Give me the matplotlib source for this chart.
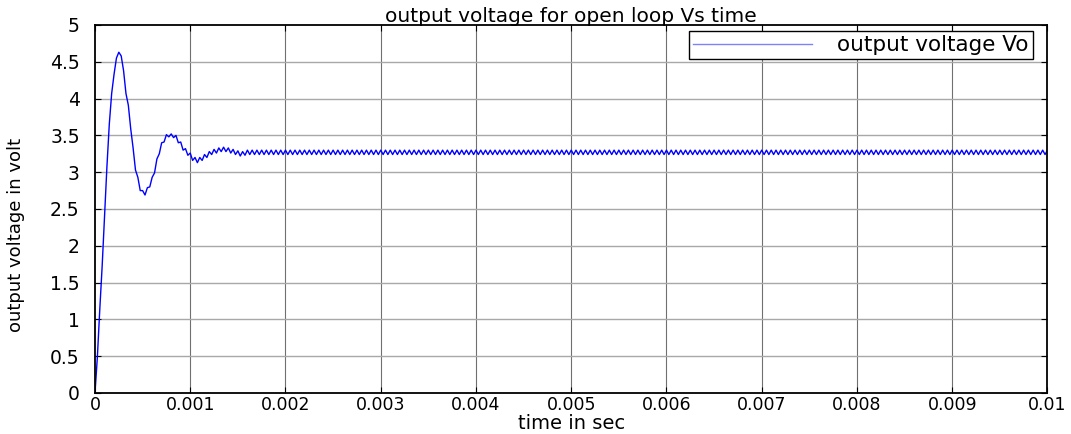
import numpy as np
import matplotlib
matplotlib.use("Agg")
import matplotlib.pyplot as plt

sample_step = 0.000025

vo_transient = [
    0.00, 0.49, 1.13, 1.72, 2.38, 3.07, 3.65, 4.07, 4.33, 4.55,
    4.63, 4.58, 4.38, 4.07, 3.91, 3.59, 3.33, 3.03, 2.93, 2.75,
    2.75, 2.69, 2.79, 2.80, 2.93, 2.99, 3.18, 3.25, 3.40, 3.41,
    3.51, 3.48, 3.52, 3.47, 3.50, 3.40, 3.41, 3.30, 3.32, 3.23,
    3.26, 3.16, 3.20, 3.13, 3.20, 3.16, 3.24, 3.20, 3.28, 3.24,
    3.31, 3.26, 3.33, 3.28, 3.34, 3.28, 3.33, 3.26, 3.31, 3.24,
    3.29, 3.22, 3.28, 3.23, 3.30,
]

vo_steady = [
    3.24, 3.30, 3.24, 3.30, 3.24, 3.30, 3.24, 3.30, 3.24, 3.30, 3.24, 3.30, 3.24, 3.30, 3.24, 3.30,
    3.24, 3.30, 3.24, 3.30, 3.24, 3.30, 3.24, 3.30, 3.24, 3.30, 3.24, 3.30, 3.24, 3.30, 3.24, 3.30,
    3.24, 3.30, 3.24, 3.30, 3.24, 3.30, 3.24, 3.30, 3.24, 3.30, 3.24, 3.30, 3.24, 3.30, 3.24, 3.30,
    3.24, 3.30, 3.24, 3.30, 3.24, 3.30, 3.24, 3.30, 3.24, 3.30, 3.24, 3.30, 3.24, 3.30, 3.24, 3.30,
    3.24, 3.30, 3.24, 3.30, 3.24, 3.30, 3.24, 3.30, 3.24, 3.30, 3.24, 3.30, 3.24, 3.30, 3.24, 3.30,
    3.24, 3.30, 3.24, 3.30, 3.24, 3.30, 3.24, 3.30, 3.24, 3.30, 3.24, 3.30, 3.24, 3.30, 3.24, 3.30,
    3.24, 3.30, 3.24, 3.30, 3.24, 3.30, 3.24, 3.30, 3.24, 3.30, 3.24, 3.30, 3.24, 3.30, 3.24, 3.30,
    3.24, 3.30, 3.24, 3.30, 3.24, 3.30, 3.24, 3.30, 3.24, 3.30, 3.24, 3.30, 3.24, 3.30, 3.24, 3.30,
    3.24, 3.30, 3.24, 3.30, 3.24, 3.30, 3.24, 3.30, 3.24, 3.30, 3.24, 3.30, 3.24, 3.30, 3.24, 3.30,
    3.24, 3.30, 3.24, 3.30, 3.24, 3.30, 3.24, 3.30, 3.24, 3.30, 3.24, 3.30, 3.24, 3.30, 3.24, 3.30,
    3.24, 3.30, 3.24, 3.30, 3.24, 3.30, 3.24, 3.30, 3.24, 3.30, 3.24, 3.30, 3.24, 3.30, 3.24, 3.30,
    3.24, 3.30, 3.24, 3.30, 3.24, 3.30, 3.24, 3.30, 3.24, 3.30, 3.24, 3.30, 3.24, 3.30, 3.24, 3.30,
    3.24, 3.30, 3.24, 3.30, 3.24, 3.30, 3.24, 3.30, 3.24, 3.30, 3.24, 3.30, 3.24, 3.30, 3.24, 3.30,
    3.24, 3.30, 3.24, 3.30, 3.24, 3.30, 3.24, 3.30, 3.24, 3.30, 3.24, 3.30, 3.24, 3.30, 3.24, 3.30,
    3.24, 3.30, 3.24, 3.30, 3.24, 3.30, 3.24, 3.30, 3.24, 3.30, 3.24, 3.30, 3.24, 3.30, 3.24, 3.30,
    3.24, 3.30, 3.24, 3.30, 3.24, 3.30, 3.24, 3.30, 3.24, 3.30, 3.24, 3.30, 3.24, 3.30, 3.24, 3.30,
    3.24, 3.30, 3.24, 3.30, 3.24, 3.30, 3.24, 3.30, 3.24, 3.30, 3.24, 3.30, 3.24, 3.30, 3.24, 3.30,
    3.24, 3.30, 3.24, 3.30, 3.24, 3.30, 3.24, 3.30, 3.24, 3.30, 3.24, 3.30, 3.24, 3.30, 3.24, 3.30,
    3.24, 3.30, 3.24, 3.30, 3.24, 3.30, 3.24, 3.30, 3.24, 3.30, 3.24, 3.30, 3.24, 3.30, 3.24, 3.30,
    3.24, 3.30, 3.24, 3.30, 3.24, 3.30, 3.24, 3.30, 3.24, 3.30, 3.24, 3.30, 3.24, 3.30, 3.24, 3.30,
    3.24, 3.30, 3.24, 3.30, 3.24, 3.30, 3.24, 3.30, 3.24, 3.30, 3.24, 3.30, 3.24, 3.30, 3.24, 3.30,
]

x_ticks = [0, 0.001, 0.002, 0.003, 0.004, 0.005, 0.006, 0.007, 0.008, 0.009, 0.01]
x_tick_labels = ["0", "0.001", "0.002", "0.003", "0.004", "0.005",
                 "0.006", "0.007", "0.008", "0.009", "0.01"]
y_ticks = [0, 0.5, 1, 1.5, 2, 2.5, 3, 3.5, 4, 4.5, 5]
y_tick_labels = ["0", "0.5", "1", "1.5", "2", "2.5", "3", "3.5", "4", "4.5", "5"]

vo = np.array(vo_transient + vo_steady)
time = np.arange(len(vo)) * sample_step

plt.rcParams['font.family'] = ['DejaVu Sans']

fig = plt.figure(figsize=(10.71, 4.34), dpi=100)
ax = fig.add_axes([0.0887, 0.0945, 0.8893, 0.8479])

ax.plot(time, vo, color="#0000ff", linewidth=1.0, label="output voltage Vo")

ax.set_xlim(0, 0.01)
ax.set_ylim(0, 5)
ax.set_xticks(x_ticks)
ax.set_xticklabels(x_tick_labels, fontsize=12.5)
ax.set_yticks(y_ticks)
ax.set_yticklabels(y_tick_labels, fontsize=13.5)

ax.tick_params(direction='in', length=4, width=0.8, top=True, right=True, color='black')
ax.tick_params(axis='x', pad=2)
ax.tick_params(axis='y', pad=11)

for v in x_ticks[1:-1]:
    ax.axvline(v, color="#707070", linewidth=0.8, zorder=0)
for v in y_ticks[1:-1]:
    ax.axhline(v, color="#a8a8a8", linewidth=1.0, zorder=0)

for spine in ax.spines.values():
    spine.set_linewidth(1.3)

ax.set_title("output voltage for open loop Vs time", fontsize=14.5, pad=2)
ax.set_xlabel("time in sec", fontsize=14, labelpad=0)
ax.set_ylabel("output voltage in volt", fontsize=13)
ax.yaxis.set_label_coords(-0.074, 0.43)

leg = ax.legend(loc='upper right', fontsize=15.5, fancybox=False, framealpha=1,
                edgecolor='black', borderpad=0.2, handlelength=5.5,
                handletextpad=1.2, borderaxespad=0,
                bbox_to_anchor=(0.985, 0.984))
leg.get_frame().set_linewidth(1.0)
leg.get_lines()[0].set_color("#8080ff")

fig.savefig("out.png", dpi=100)
